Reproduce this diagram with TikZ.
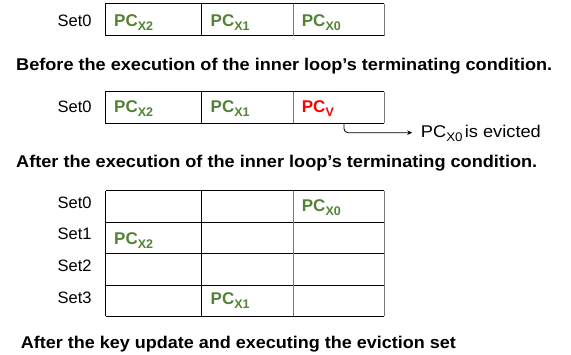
\documentclass[tikz,border=0pt]{standalone}
\usepackage{fontspec}
\usepackage{graphicx}
\setmainfont{Liberation Sans}
\usetikzlibrary{arrows.meta}

\definecolor{pcgreen}{RGB}{84,130,53}
\definecolor{pcred}{RGB}{255,0,0}
\definecolor{rulegray}{RGB}{120,120,120}

% subscript of a PC name
\newcommand\pcsub[1]{\raisebox{-4pt}{\fontsize{12.5}{14}\selectfont #1}}

\tikzset{
  txt/.style={inner sep=0pt, anchor=base west},
  setlabel/.style={txt, font=\fontsize{16.5}{18}\selectfont},
  pcentry/.style={txt, text=pcgreen, font=\fontsize{17}{18}\selectfont\bfseries},
  pcvictim/.style={txt, text=pcred, font=\fontsize{17}{18}\selectfont\bfseries},
  caption/.style={txt, font=\fontsize{17}{19}\selectfont\bfseries},
  darkrule/.style={line width=1pt, draw=black},
  lightrule/.style={line width=1pt, draw=rulegray},
  evictarrow/.style={line width=0.8pt, rounded corners=4pt,
    -{Stealth[length=5pt,width=4.5pt]}},
}

\begin{document}
\begin{tikzpicture}[x=1pt,y=-1pt]
\useasboundingbox (0,0) rectangle (571,355);

% ---- state 1: one set, three ways ----
\draw[darkrule] (384,4) -- (105.7,4) -- (105.7,36) -- (384,36);
\draw[darkrule] (201.7,4) -- (201.7,36);
\draw[lightrule] (293,4) -- (293,36);
\draw[lightrule] (384,4) -- (384,36);
\node[setlabel] (s1set0) at (57.5,26.5) {Set0};
\node[pcentry] (s1x2) at (114,26.5) {PC\pcsub{X2}};
\node[pcentry] (s1x1) at (210.5,26.5) {PC\pcsub{X1}};
\node[pcentry] (s1x0) at (301.7,26.5) {PC\pcsub{X0}};
\node[caption] (cap1) at (16,71)
  {\resizebox{536pt}{\height}{Before the execution of the inner loop’s terminating condition.}};

% ---- state 2: victim line replaces PC_X0 ----
\draw[darkrule] (384,91.7) -- (105.7,91.7) -- (105.7,123.5) -- (384,123.5);
\draw[darkrule] (201.7,91.7) -- (201.7,123.5);
\draw[lightrule] (293,91.7) -- (293,123.5);
\draw[lightrule] (384,91.7) -- (384,123.5);
\node[setlabel] (s2set0) at (57.5,112.5) {Set0};
\node[pcentry] (s2x2) at (114,113) {PC\pcsub{X2}};
\node[pcentry] (s2x1) at (210.5,113) {PC\pcsub{X1}};
\node[pcvictim] (s2v) at (301.7,113) {PC\pcsub{V}};
\coordinate (evsrc) at (344,123.5);
\node[txt, font=\fontsize{17}{19}\selectfont] (evicted) at (420.7,137.3)
  {\resizebox{120pt}{\height}{PC\raisebox{-4pt}{\fontsize{12.5}{14}\selectfont X0}\hspace{2pt}is evicted}};
\draw[evictarrow] (evsrc) |- ([xshift=-8.5pt,yshift=4.6pt]evicted.base west);
\node[caption] (cap2) at (16,167.5)
  {\resizebox{521pt}{\height}{After the execution of the inner loop’s terminating condition.}};

% ---- state 3: four sets after the key update ----
\foreach \yy in {190.7,222.3,254,285.5,316.5}
  \draw[darkrule] (105.7,\yy) -- (384,\yy);
\draw[darkrule] (105.7,190.7) -- (105.7,316.5);
\draw[darkrule] (201.7,190.7) -- (201.7,316.5);
\draw[lightrule] (293,190.7) -- (293,316.5);
\draw[lightrule] (384,190.7) -- (384,316.5);
\node[setlabel] (g0) at (57.5,208.3) {Set0};
\node[setlabel] (g1) at (57.5,240) {Set1};
\node[setlabel] (g2) at (57.5,272) {Set2};
\node[setlabel] (g3) at (57.5,303.5) {Set3};
\node[pcentry] (gx0) at (301.7,211.7) {PC\pcsub{X0}};
\node[pcentry] (gx2) at (114,244.5) {PC\pcsub{X2}};
\node[pcentry] (gx1) at (210.5,305) {PC\pcsub{X1}};
\node[caption] (cap3) at (20.7,348.3)
  {\resizebox{435pt}{\height}{After the key update and executing the eviction set}};
\end{tikzpicture}
\end{document}
